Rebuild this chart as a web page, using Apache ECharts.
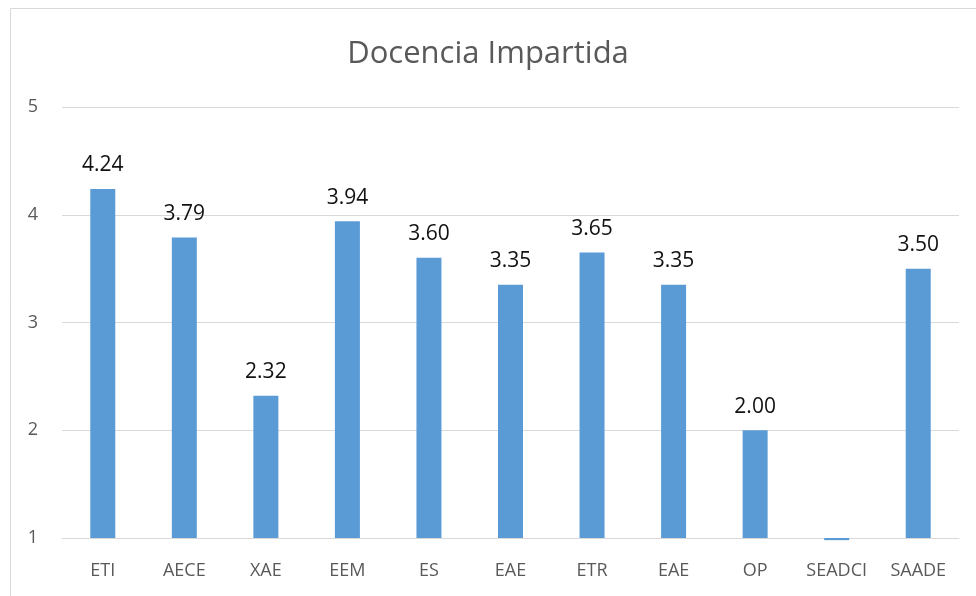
<!DOCTYPE html>
<html>
<head>
<meta charset="utf-8">
<script src="https://cdn.jsdelivr.net/npm/echarts@6/dist/echarts.min.js"></script>
<style>
  html, body { margin: 0; padding: 0; background: #fff; }
  #chart { width: 976px; height: 596px; }
</style>
</head>
<body>
<div id="chart"></div>
<script>
// datos
const categories = ['ETI', 'AECE', 'XAE', 'EEM', 'ES', 'EAE', 'ETR', 'EAE', 'OP', 'SEADCI', 'SAADE'];
const values = [4.24, 3.79, 2.32, 3.94, 3.60, 3.35, 3.65, 3.35, 2.00, 0.98, 3.50];
const yTicks = [1, 2, 3, 4, 5];

const font = '"Open Sans", "Noto Sans", sans-serif';
const chart = echarts.init(document.getElementById('chart'));

chart.setOption({
  animation: false,
  title: {
    text: 'Docencia Impartida',
    left: 'center',
    top: 34,
    textStyle: { fontFamily: font, fontSize: 31, fontWeight: 'normal', color: '#595959' }
  },
  graphic: [{
    type: 'rect',
    shape: { x: 10.5, y: 8.5, width: 1000, height: 1000 },
    style: { fill: 'none', stroke: '#d9d9d9', lineWidth: 1 },
    silent: true
  }],
  grid: { left: 62, right: 17, top: 107, bottom: 58 },
  xAxis: {
    type: 'category',
    data: categories,
    axisLine: { show: true, lineStyle: { color: '#d9d9d9', width: 1 } },
    axisTick: { show: false },
    axisLabel: { fontFamily: font, fontSize: 18, color: '#595959', margin: 24, interval: 0 }
  },
  yAxis: {
    type: 'value',
    min: yTicks[0],
    max: yTicks[yTicks.length - 1],
    interval: 1,
    startValue: 1,
    axisLine: { show: false },
    axisTick: { show: false },
    splitLine: { lineStyle: { color: '#d9d9d9', width: 1 } },
    axisLabel: { fontFamily: font, fontSize: 18, color: '#595959', margin: 24 }
  },
  series: [{
    type: 'bar',
    data: values,
    barWidth: 25,
    clip: false,
    itemStyle: { color: '#5b9bd5' },
    label: {
      show: true,
      position: 'top',
      distance: 13,
      fontFamily: font,
      fontSize: 21,
      color: '#111',
      formatter: p => p.value < 1 ? '' : p.value.toFixed(2)
    }
  }]
});
</script>
</body>
</html>
